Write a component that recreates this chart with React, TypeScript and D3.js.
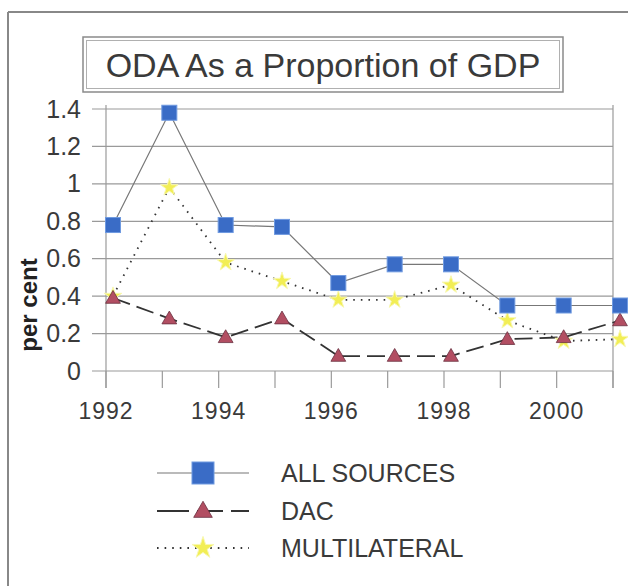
import React from "react";
import * as d3 from "d3";

const years = [1992, 1993, 1994, 1995, 1996, 1997, 1998, 1999, 2000, 2001];
const allSources = [0.78, 1.38, 0.78, 0.77, 0.47, 0.57, 0.57, 0.35, 0.35, 0.35];
const dac = [0.39, 0.28, 0.18, 0.28, 0.08, 0.08, 0.08, 0.17, 0.18, 0.27];
const multilateral = [0.4, 0.98, 0.58, 0.48, 0.38, 0.38, 0.46, 0.27, 0.16, 0.17];
const yTicks = [0, 0.2, 0.4, 0.6, 0.8, 1, 1.2, 1.4];
const xLabels = [1992, 1994, 1996, 1998, 2000];
const legendNames = ["ALL SOURCES", "DAC", "MULTILATERAL"];
const title = "ODA As a Proportion of GDP";
const yTitle = "per cent";

const W = 628;
const H = 586;
const FONT = "Liberation Sans, Arial, sans-serif";

export default function App() {
  const x = d3.scaleLinear().domain([1992, 2001]).range([106, 613]);
  const px = (yr: number) => x(yr) + 7;
  const y = d3.scaleLinear().domain([0, 1.4]).range([371, 109]);

  const line = (vals: number[]) =>
    d3.line<number>().x((_, i) => px(years[i])).y((v) => y(v))(vals) || "";

  const star = d3.symbol().type(d3.symbolStar).size(95)() || "";
  const tri = d3.symbol().type(d3.symbolTriangle).size(95)() || "";
  const triL = d3.symbol().type(d3.symbolTriangle).size(150)() || "";
  const starL = d3.symbol().type(d3.symbolStar).size(150)() || "";

  const sq = 15;
  const textCol = "#3a3a3a";
  const gridCol = "#9a9a9a";

  const legendY = [473, 511, 548];

  return (
    <svg
      width={W}
      height={H}
      style={{ position: "absolute", left: 0, top: 0, background: "#fff" }}
      fontFamily={FONT}
    >
      <rect x={0} y={0} width={W} height={H} fill="#fff" />
      {/* outer frame */}
      <line x1={8} y1={12} x2={W} y2={12} stroke="#888" strokeWidth={2} />
      <line x1={8} y1={12} x2={8} y2={H} stroke="#888" strokeWidth={2} />

      {/* title box */}
      <rect x={83} y={37} width={480} height={55} fill="#fff" stroke="#8a8a8a" strokeWidth={1.5} />
      <rect x={86.5} y={40.5} width={473} height={48} fill="none" stroke="#b0b0b0" strokeWidth={1} />
      <text x={323} y={77} textAnchor="middle" fontSize={34} fill={textCol}>
        {title}
      </text>

      {/* gridlines */}
      {yTicks.map((t) => (
        <line key={t} x1={92} x2={613} y1={y(t)} y2={y(t)} stroke={gridCol} strokeWidth={1.2} />
      ))}
      {/* axes */}
      <line x1={106} x2={106} y1={105} y2={388} stroke={gridCol} strokeWidth={1.2} />
      <line x1={613} x2={613} y1={105} y2={388} stroke={gridCol} strokeWidth={1.2} />
      {years.map((yr) => (
        <line key={yr} x1={x(yr)} x2={x(yr)} y1={371} y2={388} stroke={gridCol} strokeWidth={1.2} />
      ))}

      {/* y tick labels */}
      {yTicks.map((t) => (
        <text key={t} x={81} y={y(t) + 8.5} textAnchor="end" fontSize={25} fill={textCol}>
          {d3.format("~g")(t)}
        </text>
      ))}
      {/* x tick labels */}
      {xLabels.map((yr) => (
        <text key={yr} x={x(yr)} y={419} textAnchor="middle" fontSize={23} fill={textCol} letterSpacing={1}>
          {yr}
        </text>
      ))}
      <text
        transform="translate(37,305) rotate(-90)"
        textAnchor="middle"
        fontSize={24}
        fontWeight="bold"
        fill="#222"
      >
        {yTitle}
      </text>

      {/* series lines */}
      <path d={line(allSources)} fill="none" stroke="#777" strokeWidth={1.2} />
      <path d={line(dac)} fill="none" stroke="#333" strokeWidth={1.8} strokeDasharray="18,7" />
      <path d={line(multilateral)} fill="none" stroke="#333" strokeWidth={1.8} strokeDasharray="1.6,6" />

      {/* markers */}
      {multilateral.map((v, i) => (
        <path key={"m" + i} d={star} transform={`translate(${px(years[i])},${y(v)})`} fill="#f2ee55" stroke="#f8f8b0" strokeWidth={1} />
      ))}
      {dac.map((v, i) => (
        <path key={"d" + i} d={tri} transform={`translate(${px(years[i])},${y(v) + 1})`} fill="#b24e62" stroke="#6a3040" strokeWidth={0.8} />
      ))}
      {allSources.map((v, i) => (
        <rect key={"a" + i} x={px(years[i]) - sq / 2} y={y(v) - sq / 2} width={sq} height={sq} fill="#3a6cc6" stroke="#6f9ae0" strokeWidth={1} />
      ))}

      {/* legend */}
      <line x1={157} x2={249} y1={legendY[0]} y2={legendY[0]} stroke="#777" strokeWidth={1.2} />
      <rect x={203 - 11} y={legendY[0] - 11} width={22} height={22} fill="#3a6cc6" stroke="#6f9ae0" strokeWidth={1} />
      <line x1={157} x2={249} y1={legendY[1]} y2={legendY[1]} stroke="#333" strokeWidth={1.8} strokeDasharray="32,8,26,8" />
      <path d={triL} transform={`translate(203,${legendY[1] + 1})`} fill="#b24e62" stroke="#6a3040" strokeWidth={0.8} />
      <line x1={157} x2={249} y1={legendY[2]} y2={legendY[2]} stroke="#333" strokeWidth={1.8} strokeDasharray="1.6,6" />
      <path d={starL} transform={`translate(203,${legendY[2]})`} fill="#f2ee55" stroke="#f8f8b0" strokeWidth={1} />
      {legendNames.map((n, i) => (
        <text key={n} x={281} y={legendY[i] + 9} fontSize={25} fill={textCol}>
          {n}
        </text>
      ))}
    </svg>
  );
}
